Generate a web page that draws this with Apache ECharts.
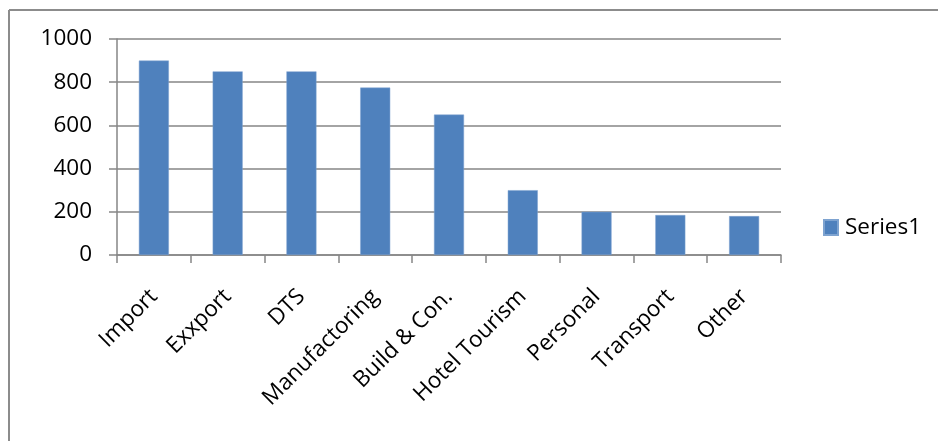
<!DOCTYPE html>
<html>
<head>
<meta charset="utf-8">
<script src="https://cdn.jsdelivr.net/npm/echarts@6/dist/echarts.min.js"></script>
<style>
html,body{margin:0;padding:0;background:#fff;}
#chart{width:938px;height:441px;}
</style>
</head>
<body>
<div id="chart"></div>
<script>
const categories = ['Import', 'Exxport', 'DTS', 'Manufactoring', 'Build & Con.', 'Hotel Tourism', 'Personal', 'Transport', 'Other'];
const series1 = [900, 850, 850, 775, 650, 300, 200, 185, 180];
const yTicks = [0, 200, 400, 600, 800, 1000];
const seriesName = 'Series1';

const FONT = '"Open Sans", "Liberation Sans", sans-serif';
const chart = echarts.init(document.getElementById('chart'), null, {renderer: 'canvas'});
chart.setOption({
  animation: false,
  backgroundColor: '#fff',
  textStyle: {fontFamily: FONT},
  graphic: [
    {type: 'line', shape: {x1: 9, y1: 10, x2: 938, y2: 10}, style: {stroke: '#8c8c8c', lineWidth: 2}},
    {type: 'line', shape: {x1: 9, y1: 10, x2: 9, y2: 441}, style: {stroke: '#8c8c8c', lineWidth: 2}}
  ],
  grid: {left: 117, right: 157, top: 39, bottom: 186, containLabel: false},
  legend: {
    show: true,
    orient: 'vertical',
    left: 823,
    top: 216,
    padding: 0,
    itemWidth: 14,
    itemHeight: 15,
    itemGap: 8,
    icon: 'rect',
    textStyle: {fontFamily: FONT, fontSize: 22.5, color: '#000', padding: [0, 0, 0, 2]},
    data: [seriesName]
  },
  xAxis: {
    type: 'category',
    data: categories,
    axisLine: {lineStyle: {color: '#868686', width: 1.5}},
    axisTick: {show: true, alignWithLabel: false, length: 8, lineStyle: {color: '#868686', width: 1.5}},
    axisLabel: {rotate: 45, interval: 0, margin: 38, padding: [28, 0, 0, 0], fontSize: 22.5, color: '#000', fontFamily: FONT}
  },
  yAxis: {
    type: 'value',
    min: yTicks[0],
    max: yTicks[yTicks.length - 1],
    interval: 200,
    axisLine: {show: true, lineStyle: {color: '#868686', width: 1.5}},
    axisTick: {show: true, length: 8, lineStyle: {color: '#868686', width: 1.5}},
    splitLine: {show: true, lineStyle: {color: '#868686', width: 1.5}},
    axisLabel: {fontSize: 22.5, color: '#000', margin: 25, fontFamily: FONT, formatter: function (v) { return String(v); }}
  },
  series: [{
    name: seriesName,
    type: 'bar',
    data: series1,
    barWidth: 30,
    itemStyle: {color: '#4F81BD', borderColor: '#7ea3d0', borderWidth: 0.5}
  }]
});
</script>
</body>
</html>
